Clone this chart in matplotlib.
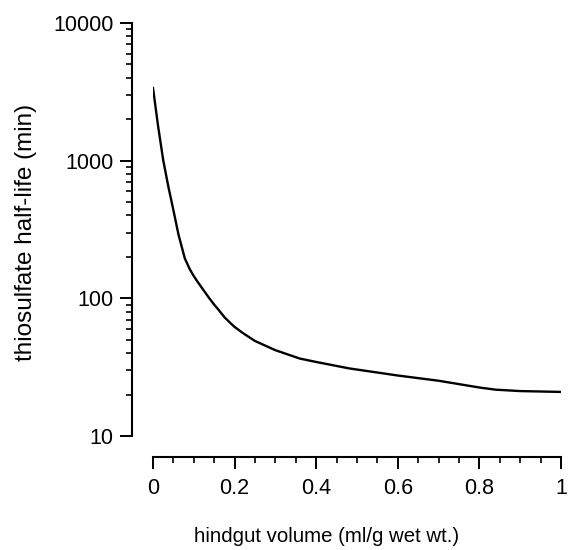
import matplotlib
matplotlib.use("Agg")
import matplotlib.pyplot as plt
from matplotlib.ticker import MultipleLocator, FixedLocator, FixedFormatter

plt.rcParams['font.family'] = ['Liberation Sans', 'DejaVu Sans']

# values
volume = [0, 0.0125, 0.025, 0.0375, 0.05, 0.0625, 0.078, 0.09, 0.1, 0.11,
          0.12, 0.136, 0.15, 0.16, 0.175, 0.19, 0.2, 0.22, 0.25, 0.3,
          0.36, 0.4, 0.48, 0.6, 0.7, 0.8, 0.84, 0.9, 1.0]
half_life = [3370, 1780, 1010, 650, 437, 290, 195, 163, 145, 131,
             119, 102, 90, 83, 73, 66, 62, 56, 49, 42,
             36.5, 34.5, 31, 27.5, 25.2, 22.5, 21.7, 21.2, 20.9]

xticks = [0, 0.2, 0.4, 0.6, 0.8, 1]
xtick_labels = ["0", "0.2", "0.4", "0.6", "0.8", "1"]
yticks = [10, 100, 1000, 10000]
ytick_labels = ["10", "100", "1000", "10000"]

fig = plt.figure(figsize=(5.68, 5.5), dpi=100)
ax = fig.add_axes([153 / 568, 1 - 436 / 550, 408 / 568, 413 / 550])

ax.plot(volume, half_life, color='black', linewidth=1.7)

ax.set_yscale('log')
ax.set_xlim(0, 1)
ax.set_ylim(10, 10000)

ax.xaxis.set_major_locator(FixedLocator(xticks))
ax.xaxis.set_major_formatter(FixedFormatter(xtick_labels))
ax.xaxis.set_minor_locator(MultipleLocator(0.05))
ax.yaxis.set_major_locator(FixedLocator(yticks))
ax.yaxis.set_major_formatter(FixedFormatter(ytick_labels))

for s in ['top', 'right']:
    ax.spines[s].set_visible(False)
ax.spines['left'].set_position(('outward', 15))
ax.spines['bottom'].set_position(('outward', 15))
ax.spines['left'].set_linewidth(1.5)
ax.spines['bottom'].set_linewidth(1.5)

ax.tick_params(which='major', length=8.5, width=1.4, labelsize=15.5, pad=5)
ax.tick_params(which='minor', length=4.3, width=1.2)
ax.tick_params(axis='x', which='major', pad=7)

ax.set_xlabel("hindgut volume (ml/g wet wt.)", fontsize=14.7)
ax.xaxis.set_label_coords((327 - 153) / 408, (436 - 527) / 413)
ax.set_ylabel("thiosulfate half-life (min)", fontsize=17.5)
ax.yaxis.set_label_coords((37 - 153) / 408, (436 - 232) / 413)

fig.savefig("out.png", dpi=100)
